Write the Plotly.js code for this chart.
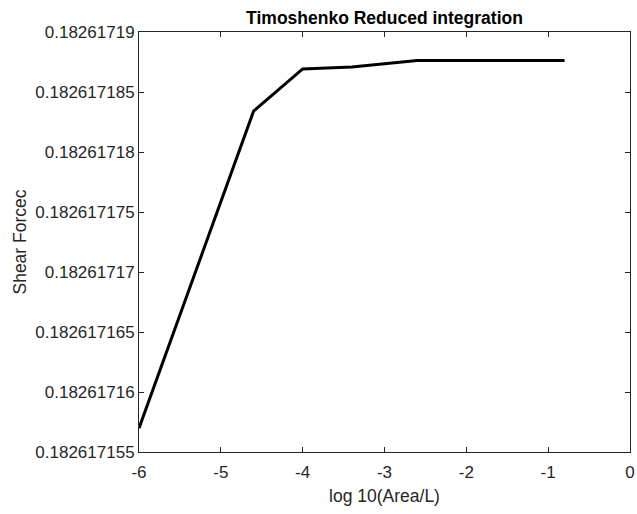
<!DOCTYPE html>
<html>
<head>
<meta charset="utf-8">
<script src="https://cdn.plot.ly/plotly-3.0.1.min.js"></script>
<style>html,body{margin:0;padding:0;background:#fff;}#chart{width:637px;height:514px;}</style>
</head>
<body>
<div id="chart"></div>
<script>
const logAreaL = [-6, -4.6, -4, -3.4, -2.6, -0.8];
const shearForce = [0.18261715698, 0.1826171834, 0.18261718692, 0.18261718708, 0.18261718763, 0.18261718763];
const xTickVals = [-6, -5, -4, -3, -2, -1, 0];
const yTickVals = [0.182617155, 0.18261716, 0.182617165, 0.18261717, 0.182617175, 0.18261718, 0.182617185, 0.18261719];
const yTickText = ['0.182617155', '0.18261716', '0.182617165', '0.18261717', '0.182617175', '0.18261718', '0.182617185', '0.18261719'];

const axisColor = '#262626';
const trace = {
  x: logAreaL, y: shearForce, type: 'scatter', mode: 'lines',
  line: {color: '#000000', width: 3}, hoverinfo: 'skip'
};
const layout = {
  width: 637, height: 514,
  margin: {l: 138.5, r: 7, t: 32, b: 62},
  paper_bgcolor: '#ffffff', plot_bgcolor: '#ffffff',
  showlegend: false,
  font: {family: 'Liberation Sans, Arial, sans-serif', color: axisColor},
  title: {text: '<b>Timoshenko Reduced integration</b>', font: {size: 17.5, color: '#000000'}, x: 0.5, xref: 'paper', y: 1, yref: 'paper', yanchor: 'bottom', pad: {b: 8}},
  xaxis: {
    range: [-6, 0], tickvals: xTickVals, ticktext: xTickVals.map(String),
    ticks: 'inside', ticklen: 5, tickcolor: axisColor, tickwidth: 1,
    showline: true, linecolor: axisColor, linewidth: 1, mirror: 'ticks',
    showgrid: false, zeroline: false, ticklabelstandoff: 5,
    tickfont: {size: 17, color: axisColor},
    title: {text: 'log 10(Area/L)', font: {size: 17.5, color: axisColor}, standoff: 8}
  },
  yaxis: {
    range: [0.182617155, 0.18261719], tickvals: yTickVals, ticktext: yTickText,
    ticks: 'inside', ticklen: 5, tickcolor: axisColor, tickwidth: 1,
    showline: true, linecolor: axisColor, linewidth: 1, mirror: 'ticks',
    showgrid: false, zeroline: false,
    tickfont: {size: 17, color: axisColor},
    title: {text: 'Shear Forcec', font: {size: 17.5, color: axisColor}, standoff: 4}
  }
};
Plotly.newPlot('chart', [trace], layout, {displayModeBar: false, staticPlot: true});
</script>
</body>
</html>
